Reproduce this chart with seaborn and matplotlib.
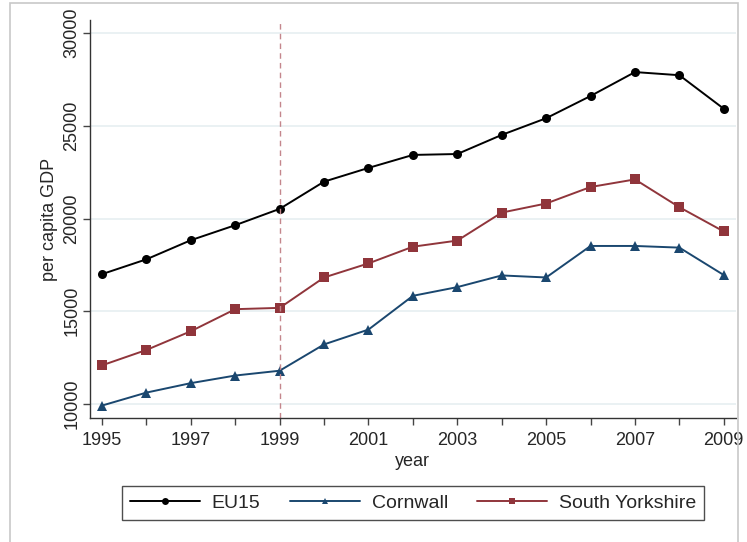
import matplotlib
matplotlib.use("Agg")
import matplotlib.pyplot as plt
import pandas as pd
import seaborn as sns
from matplotlib.patches import Rectangle

years = list(range(1995, 2010))
eu15 = [17000, 17800, 18830, 19640, 20520, 21990, 22730, 23430, 23480,
        24510, 25410, 26610, 27900, 27730, 25920]
cornwall = [9910, 10610, 11120, 11530, 11790, 13210, 14010, 15830, 16300,
            16930, 16820, 18520, 18520, 18430, 16950]
south_yorkshire = [12080, 12910, 13920, 15110, 15180, 16820, 17580, 18480, 18810,
                   20320, 20810, 21700, 22110, 20610, 19300]
regions = ["EU15", "Cornwall", "South Yorkshire"]
y_ticks = [10000, 15000, 20000, 25000, 30000]
x_labels = [1995, 1997, 1999, 2001, 2003, 2005, 2007, 2009]

df = pd.DataFrame({
    "year": years * 3,
    "gdp": eu15 + cornwall + south_yorkshire,
    "region": ["EU15"] * 15 + ["Cornwall"] * 15 + ["South Yorkshire"] * 15,
})

sns.set_style("white")
plt.rcParams["font.family"] = ["Liberation Sans", "DejaVu Sans"]

fig = plt.figure(figsize=(7.47, 5.42), dpi=100)
ax = fig.add_axes([0.1205, 0.2288, 0.8645, 0.734])

palette = {"EU15": "#000000", "Cornwall": "#1a476f", "South Yorkshire": "#90353b"}
markers = {"EU15": "o", "Cornwall": "^", "South Yorkshire": "s"}
sizes = {"EU15": 5.5, "Cornwall": 6.5, "South Yorkshire": 7}

sns.lineplot(data=df, x="year", y="gdp", hue="region", style="region",
             hue_order=regions, style_order=regions, palette=palette,
             markers=markers, dashes=False, linewidth=1.4, markersize=6.5,
             markeredgewidth=0, ax=ax)
for line in ax.lines:
    lab = line.get_label()
    if lab in sizes:
        line.set_markersize(sizes[lab])

ax.axvline(1999, color="#c4868c", linestyle=(0, (4, 3)), linewidth=1)

ax.set_xlim(1994.73, 2009.27)
ax.set_ylim(9240, 30700)
ax.set_yticks(y_ticks)
ax.set_yticklabels([str(v) for v in y_ticks], rotation=90, va="center")
ax.set_xticks(x_labels)
ax.set_xticks([y for y in years if y not in x_labels], minor=True)
ax.tick_params(axis="both", which="both", direction="out", length=5,
               width=1, color="#444444", labelsize=13, left=True, bottom=True)
ax.tick_params(axis="y", pad=2)
ax.tick_params(axis="x", pad=5)
ax.grid(axis="y", color="#e6eff1", linewidth=1.2)
ax.grid(axis="x", visible=False)
ax.set_axisbelow(True)

for side in ["top", "right"]:
    ax.spines[side].set_visible(False)
for side in ["left", "bottom"]:
    ax.spines[side].set_color("#333333")
    ax.spines[side].set_linewidth(1)

ax.set_xlabel("year", fontsize=13, labelpad=3)
ax.set_ylabel("per capita GDP", fontsize=13, labelpad=4)

handles, labels = ax.get_legend_handles_labels()
ax.get_legend().remove()
for h in handles:
    h.set_markersize(5)
leg = fig.legend(handles, labels, loc="center", bbox_to_anchor=(0.553, 0.072),
                 ncol=3, frameon=True, fancybox=False, fontsize=14,
                 handlelength=3.6, columnspacing=1.5, handletextpad=0.62,
                 borderpad=0.4)
leg.get_frame().set_edgecolor("#222222")
leg.get_frame().set_linewidth(1)

fig.patches.append(Rectangle((10 / 747, -0.1), 728 / 747, 1.1 - 3 / 542,
                             transform=fig.transFigure, fill=False,
                             edgecolor="#c8c8c8", linewidth=1.2))

fig.savefig("out.png", dpi=100)
